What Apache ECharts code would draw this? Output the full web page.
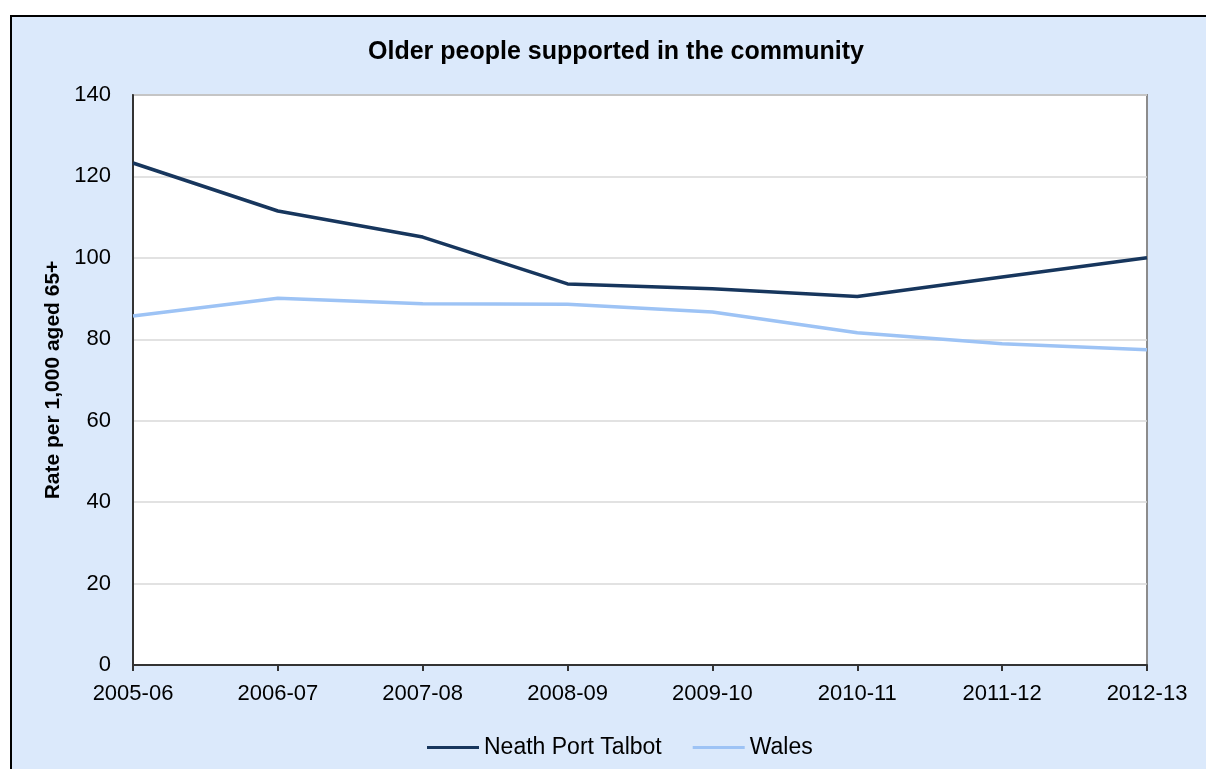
<!DOCTYPE html>
<html>
<head>
<meta charset="utf-8">
<script src="https://cdn.jsdelivr.net/npm/echarts@6/dist/echarts.min.js"></script>
<style>
  html, body { margin: 0; padding: 0; background: #fff; }
  .frame {
    position: absolute; left: 10px; top: 15px;
    width: 1200px; height: 760px;
    border-left: 2px solid #000; border-top: 2px solid #000;
    background: #dbe9fb;
  }
  .com-chart { position: absolute; left: 0; top: 0; width: 1206px; height: 769px; }
</style>
</head>
<body>
<div class="frame"></div>
<div class="com-chart" id="main"></div>
<script>
const years = ['2005-06', '2006-07', '2007-08', '2008-09', '2009-10', '2010-11', '2011-12', '2012-13']
const neathPortTalbot = [123.3, 111.5, 105.1, 93.6, 92.4, 90.5, 95.3, 100.0]
const wales = [85.7, 90.1, 88.7, 88.6, 86.7, 81.6, 78.9, 77.4]

const chartInstance = echarts.init(document.getElementById('main'))
const fontFamily = '"Liberation Sans", Arial, sans-serif'

const option = {
  animation: false,
  title: {
    text: 'Older people supported in the community',
    left: 363,
    top: 35,
    textStyle: { fontFamily: fontFamily, fontSize: 25, fontWeight: 'bold', color: '#000' }
  },
  legend: {
    left: 422,
    top: 731,
    icon: 'rect',
    itemWidth: 52,
    itemHeight: 3,
    itemGap: 31,
    textStyle: { fontFamily: fontFamily, fontSize: 23, color: '#000' },
    data: ['Neath Port Talbot', 'Wales']
  },
  grid: {
    left: 133,
    top: 95,
    right: 59,
    bottom: 104,
    show: true,
    backgroundColor: '#fff',
    borderColor: '#8c8c8c',
    borderWidth: 2
  },
  xAxis: {
    type: 'category',
    boundaryGap: false,
    data: years,
    axisLine: { lineStyle: { color: '#333', width: 2 } },
    axisTick: { show: true, length: 6, lineStyle: { color: '#333', width: 2 } },
    axisLabel: { fontFamily: fontFamily, fontSize: 22, color: '#000', margin: 18 }
  },
  yAxis: {
    type: 'value',
    min: 0,
    max: 140,
    interval: 20,
    name: 'Rate per 1,000 aged 65+',
    nameLocation: 'middle',
    nameRotate: 90,
    nameGap: 62,
    nameTextStyle: { fontFamily: fontFamily, fontSize: 21, fontWeight: 'bold', color: '#000' },
    axisLine: { show: true, lineStyle: { color: '#333', width: 2 } },
    axisTick: { show: false },
    axisLabel: { fontFamily: fontFamily, fontSize: 22, color: '#000', margin: 22 },
    splitLine: { lineStyle: { color: '#d9d9d9', width: 1.5 } }
  },
  series: [
    {
      name: 'Neath Port Talbot',
      type: 'line',
      symbol: 'none',
      lineStyle: { color: '#17365d', width: 3.5 },
      itemStyle: { color: '#17365d' },
      data: neathPortTalbot
    },
    {
      name: 'Wales',
      type: 'line',
      symbol: 'none',
      lineStyle: { color: '#9dc3f5', width: 3.5 },
      itemStyle: { color: '#9dc3f5' },
      data: wales
    }
  ]
}
chartInstance.setOption(option)
</script>
</body>
</html>
